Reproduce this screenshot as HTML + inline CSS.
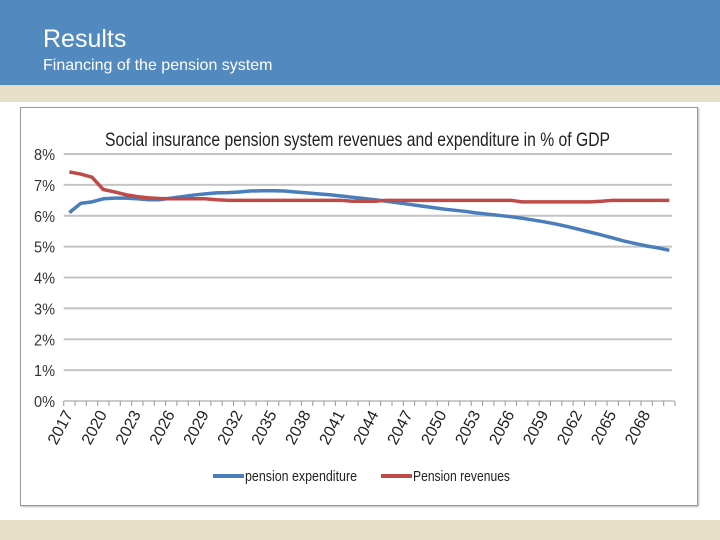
<!DOCTYPE html>
<html><head><meta charset="utf-8"><style>
body{margin:0;width:720px;height:540px;background:#fff;font-family:"Liberation Sans",sans-serif;overflow:hidden;position:relative}
#hdr{position:absolute;left:0;top:0;width:720px;height:85px;background:#5289bf}
#band{position:absolute;left:0;top:85px;width:720px;height:17px;background:#e8dfc8}
#band2{position:absolute;left:0;top:520px;width:720px;height:20px;background:#e8dfc8}
#t1{position:absolute;left:43px;top:25px;color:#fff;font-size:25px}
#t2{position:absolute;left:43px;top:57px;color:#fff;font-size:16px}
#box{position:absolute;left:20px;top:107px;width:676px;height:397px;border:1px solid #999;box-shadow:1px 1px 2px #bbb}
svg{position:absolute;left:0;top:0}
</style></head><body>
<div id="hdr"><div id="t1">Results</div><div id="t2">Financing of the pension system</div></div>
<div id="band"></div>
<div id="band2"></div>
<div id="box"></div>
<svg id="chart" width="720" height="540"></svg>
<script>
const years=[];for(let y=2017;y<=2070;y++)years.push(y);
const expenditure=[6.1,6.4,6.45,6.55,6.57,6.57,6.55,6.52,6.52,6.57,6.62,6.67,6.71,6.74,6.75,6.77,6.8,6.81,6.81,6.8,6.77,6.74,6.71,6.68,6.64,6.6,6.56,6.52,6.47,6.42,6.37,6.32,6.27,6.22,6.18,6.14,6.09,6.05,6.01,5.97,5.92,5.86,5.8,5.73,5.65,5.56,5.47,5.38,5.28,5.18,5.1,5.02,4.96,4.88];
const revenues=[7.42,7.35,7.25,6.85,6.77,6.68,6.62,6.58,6.56,6.55,6.55,6.55,6.55,6.52,6.5,6.5,6.5,6.5,6.5,6.5,6.5,6.5,6.5,6.5,6.5,6.47,6.47,6.47,6.5,6.5,6.5,6.5,6.5,6.5,6.5,6.5,6.5,6.5,6.5,6.5,6.45,6.45,6.45,6.45,6.45,6.45,6.45,6.47,6.5,6.5,6.5,6.5,6.5,6.5];
const yTicks=[0,1,2,3,4,5,6,7,8];
const NS="http://www.w3.org/2000/svg",svg=document.getElementById('chart');
const x0=63.7,x1=675,y0=401,y8=154;
const bw=(x1-x0)/years.length;
const X=i=>x0+bw*(i+0.5);
const Y=v=>y0-(y0-y8)*v/8;
function mk(t,a){const e=document.createElementNS(NS,t);for(const k in a)e.setAttribute(k,a[k]);svg.appendChild(e);return e;}
yTicks.forEach(v=>{
 if(v>0){const g=mk('line',{x1:x0,x2:x1-3,y1:Y(v),y2:Y(v),stroke:'#c4c4c4','stroke-width':2});
 
 }
 const t=mk('text',{x:34,y:Y(v)+6,'font-size':16,fill:'#333',textLength:21,lengthAdjust:'spacingAndGlyphs'});
 t.textContent=v+'%';
 
 
});
const ax=mk('line',{x1:x0,x2:x1,y1:y0,y2:y0,stroke:'#999','stroke-width':1});


for(let i=0;i<=years.length;i++){const tk=mk('line',{x1:x0+bw*i,x2:x0+bw*i,y1:y0,y2:y0+5,stroke:'#999'});

}
years.forEach((y,i)=>{if((y-2017)%3)return;
 const ax_=X(i)+4,ay=y0+13;
 const t=mk('text',{x:ax_,y:ay,'text-anchor':'end','font-size':16,fill:'#222',textLength:36,lengthAdjust:'spacingAndGlyphs',transform:`rotate(-62 ${ax_} ${ay})`});
 t.textContent=y;
 
 });
function line(d,c,n){const p=mk('polyline',{points:d.map((v,i)=>X(i)+','+Y(v)).join(' '),fill:'none',stroke:c,'stroke-width':3.5,'stroke-linejoin':'round'});

}
line(expenditure,'#4a7ebb','series-pension-expenditure');
line(revenues,'#be4b48','series-pension-revenues');
const tt=mk('text',{x:105,y:146,'font-size':19,fill:'#222',textLength:505,lengthAdjust:'spacingAndGlyphs'});
tt.textContent='Social insurance pension system revenues and expenditure in % of GDP';


[[213,'#4a7ebb','pension expenditure',112],[381,'#be4b48','Pension revenues',97]].forEach(([x,c,s,w])=>{
 const l=mk('line',{x1:x,x2:x+31,y1:476,y2:476,stroke:c,'stroke-width':4});
 
 
 const t=mk('text',{x:x+32,y:481,'font-size':15,fill:'#222',textLength:w,lengthAdjust:'spacingAndGlyphs'});
 t.textContent=s;
 
 
});
</script>
</body></html>
